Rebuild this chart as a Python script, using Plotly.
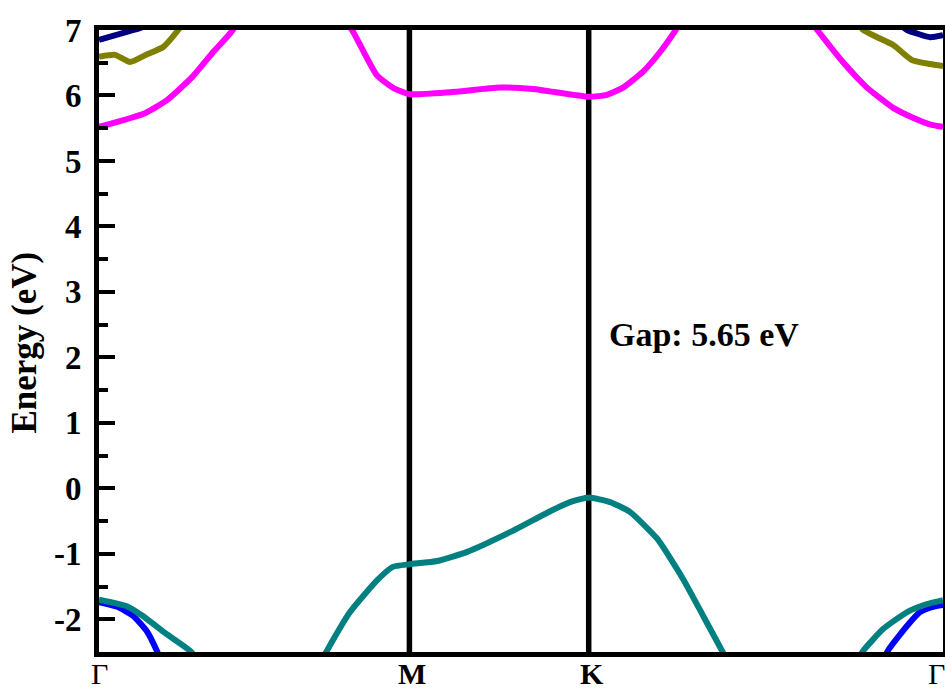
import plotly.graph_objects as go

# High-symmetry points along the path (k in units of 2*pi/a)
k_points = [0.0, 0.58, 0.915, 1.577]
k_labels = ["Γ", "<b>M</b>", "<b>K</b>", "Γ"]

# Energy axis ticks
e_ticks = [-2, -1, 0, 1, 2, 3, 4, 5, 6, 7]
e_ticktext = ["-2", "-1", "0", "1", "2", "3", "4", "5", "6", "7"]

# Valence bands (eV)
vb_teal_a_k = [0.0, 0.052, 0.082, 0.120, 0.170, 0.189]
vb_teal_a_e = [-1.70, -1.80, -1.95, -2.19, -2.48, -2.68]
vb_blue_a_k = [0.0, 0.034, 0.064, 0.090, 0.108, 0.118]
vb_blue_a_e = [-1.74, -1.81, -1.95, -2.19, -2.48, -2.68]

vb_teal_b_k = [0.413, 0.426, 0.469, 0.519, 0.549, 0.58, 0.632, 0.688, 0.768,
               0.843, 0.880, 0.915, 0.955, 0.992, 1.043, 1.091, 1.129, 1.164, 1.177]
vb_teal_b_e = [-2.68, -2.48, -1.89, -1.41, -1.20, -1.16, -1.11, -0.97, -0.67,
               -0.35, -0.21, -0.14, -0.21, -0.36, -0.77, -1.38, -1.95, -2.48, -2.68]

vb_teal_c_k = [1.413, 1.428, 1.465, 1.510, 1.547, 1.577]
vb_teal_c_e = [-2.68, -2.48, -2.15, -1.89, -1.77, -1.71]
vb_blue_c_k = [1.463, 1.474, 1.510, 1.534, 1.558, 1.577]
vb_blue_c_e = [-2.68, -2.48, -2.10, -1.89, -1.81, -1.78]

# Conduction bands (eV)
cb_mag_a_k = [0.0, 0.086, 0.127, 0.174, 0.213, 0.250, 0.265]
cb_mag_a_e = [5.52, 5.73, 5.93, 6.28, 6.66, 7.00, 7.25]
cb_mag_b_k = [0.460, 0.475, 0.519, 0.549, 0.58, 0.656, 0.749, 0.811, 0.915,
              0.949, 0.979, 1.016, 1.048, 1.076, 1.089]
cb_mag_b_e = [7.15, 6.97, 6.31, 6.12, 6.02, 6.05, 6.12, 6.10, 5.98,
              6.01, 6.12, 6.36, 6.66, 6.98, 7.15]
cb_mag_c_k = [1.328, 1.342, 1.390, 1.435, 1.484, 1.521, 1.556, 1.577]
cb_mag_c_e = [7.15, 7.00, 6.51, 6.12, 5.81, 5.66, 5.55, 5.52]

cb_olive_a_k = [0.0, 0.030, 0.058, 0.090, 0.120, 0.148, 0.161]
cb_olive_a_e = [6.59, 6.62, 6.51, 6.63, 6.74, 7.00, 7.15]
cb_olive_c_k = [1.414, 1.428, 1.454, 1.484, 1.519, 1.553, 1.577]
cb_olive_c_e = [7.15, 7.00, 6.89, 6.77, 6.54, 6.48, 6.45]

cb_navy_a_k = [0.0, 0.052, 0.077, 0.095]
cb_navy_a_e = [6.85, 6.97, 7.03, 7.10]
cb_navy_c_k = [1.497, 1.510, 1.553, 1.577]
cb_navy_c_e = [7.08, 7.00, 6.89, 6.92]

gap_text = "Gap: 5.65 eV"

TEAL = "#008080"
BLUE = "#0000FF"
MAGENTA = "#FF00FF"
OLIVE = "#808000"
NAVY = "#000080"

bands = [
    (vb_blue_a_k, vb_blue_a_e, BLUE),
    (vb_teal_a_k, vb_teal_a_e, TEAL),
    (vb_teal_b_k, vb_teal_b_e, TEAL),
    (vb_blue_c_k, vb_blue_c_e, BLUE),
    (vb_teal_c_k, vb_teal_c_e, TEAL),
    (cb_mag_a_k, cb_mag_a_e, MAGENTA),
    (cb_mag_b_k, cb_mag_b_e, MAGENTA),
    (cb_mag_c_k, cb_mag_c_e, MAGENTA),
    (cb_olive_a_k, cb_olive_a_e, OLIVE),
    (cb_olive_c_k, cb_olive_c_e, OLIVE),
    (cb_navy_a_k, cb_navy_a_e, NAVY),
    (cb_navy_c_k, cb_navy_c_e, NAVY),
]

fig = go.Figure()
for kx, ey, col in bands:
    fig.add_trace(go.Scatter(
        x=kx, y=ey, mode="lines",
        line=dict(color=col, width=6, shape="spline", smoothing=0.5),
        showlegend=False, hoverinfo="skip",
    ))

# vertical separators at the interior high-symmetry points
for kv in k_points[1:-1]:
    fig.add_shape(type="line", xref="x", yref="paper", x0=kv, x1=kv, y0=0, y1=1,
                  line=dict(color="black", width=5.5), layer="below")

serif = "Liberation Serif"

PLOT_H = 691 - 30 - 39
page_bottom = -39 / PLOT_H

# k-point labels under the path, sitting on the page bottom
for i, (kv, lab) in enumerate(zip(k_points, k_labels)):
    last = i == len(k_points) - 1
    fig.add_annotation(
        x=kv, y=page_bottom, xref="x", yref="paper", text=lab, showarrow=False,
        xanchor="right" if last else "center", yanchor="bottom",
        xshift=3 if last else 3 * (i > 0), borderpad=0,
        font=dict(family=serif, size=30, color="black"),
    )

fig.add_annotation(
    x=0.949, y=2.35, xref="x", yref="y", text=f"<b>{gap_text}</b>",
    showarrow=False, xanchor="left", yanchor="middle",
    font=dict(family=serif, size=34, color="black"),
)
fig.add_annotation(
    x=-0.088, y=0.497, xref="paper", yref="paper", text="<b>Energy (eV)</b>",
    showarrow=False, textangle=-90, xanchor="center", yanchor="middle",
    font=dict(family=serif, size=35, color="black"),
)

fig.update_layout(
    width=945, height=691,
    margin=dict(l=99, r=2, t=30, b=39, autoexpand=False),
    paper_bgcolor="white", plot_bgcolor="white",
    showlegend=False,
)
fig.update_xaxes(
    range=[k_points[0], k_points[-1]],
    showticklabels=False, ticks="", showgrid=False, zeroline=False,
    showline=True, linecolor="black", linewidth=5, mirror=True,
    automargin=False,
)
fig.update_yaxes(
    range=[-2.5, 7], tickvals=e_ticks, ticktext=e_ticktext,
    ticks="inside", ticklen=16, tickwidth=4, tickcolor="black",
    minor=dict(ticks="inside", ticklen=9, tickwidth=4, tickcolor="black",
               dtick=0.5, tick0=0.5),
    showgrid=False, zeroline=False,
    showline=True, linecolor="black", linewidth=5, mirror=True,
    tickfont=dict(family=serif, size=33, color="black", weight="bold"),
    ticklabelstandoff=6, automargin=False,
)

fig.write_html("out.html")
